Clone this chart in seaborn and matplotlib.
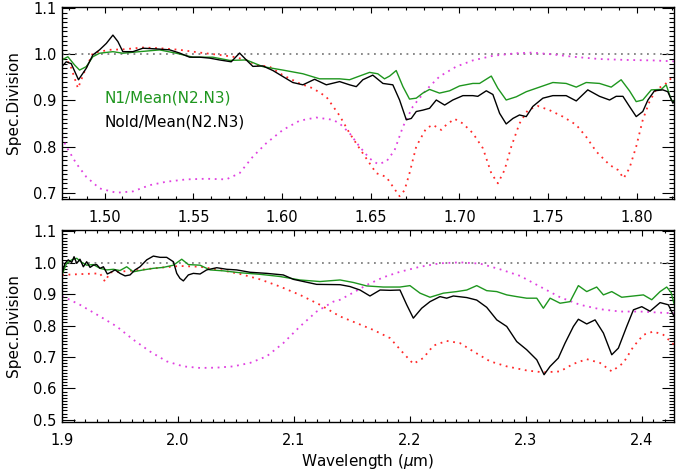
import numpy as np
import pandas as pd
import seaborn as sns
import matplotlib.pyplot as plt
from matplotlib.ticker import MultipleLocator, FormatStrFormatter

sns.set_theme(style="ticks")
plt.rcParams['font.family'] = ['DejaVu Sans']

# --- H band (top panel) ---
h_black_wl = [1.476, 1.4784, 1.4812, 1.4853, 1.4897, 1.4934, 1.4972, 1.501, 1.5047, 1.5075,
              1.5103, 1.516, 1.5216, 1.5291, 1.5366, 1.5423, 1.5479, 1.5536, 1.5592, 1.5648,
              1.5714, 1.5761, 1.5799, 1.5836, 1.5892, 1.5949, 1.6005, 1.6061, 1.6118, 1.6184,
              1.625, 1.6325, 1.6381, 1.6419, 1.6456, 1.6512, 1.6569, 1.6625, 1.6663, 1.6701,
              1.6729, 1.6757, 1.6794, 1.6832, 1.687, 1.6917, 1.6963, 1.702, 1.7076, 1.7104,
              1.7152, 1.7189, 1.7227, 1.7264, 1.7302, 1.7339, 1.7377, 1.7414, 1.7471, 1.7527,
              1.7602, 1.7659, 1.7724, 1.779, 1.7847, 1.7884, 1.7922, 1.7959, 1.7997, 1.8034,
              1.8063, 1.81, 1.8147, 1.8175, 1.8204, 1.8215]
h_black = [0.974, 0.984, 0.980, 0.945, 0.970, 0.999, 1.010, 1.024, 1.042, 1.028,
           1.006, 1.006, 1.0135, 1.012, 1.010, 1.003, 0.994, 0.994, 0.992, 0.988,
           0.984, 1.003, 0.988, 0.974, 0.975, 0.965, 0.952, 0.939, 0.934, 0.946,
           0.934, 0.941, 0.934, 0.930, 0.945, 0.955, 0.937, 0.934, 0.901, 0.858,
           0.861, 0.876, 0.879, 0.883, 0.901, 0.890, 0.901, 0.9105, 0.9105, 0.909,
           0.921, 0.913, 0.872, 0.849, 0.861, 0.8685, 0.865, 0.887, 0.905, 0.9105,
           0.9105, 0.899, 0.923, 0.909, 0.901, 0.909, 0.909, 0.887, 0.865, 0.876,
           0.901, 0.921, 0.923, 0.919, 0.894, 0.900]

h_green_wl = [1.476, 1.4793, 1.4831, 1.4859, 1.4897, 1.4934, 1.4972, 1.5047, 1.5103, 1.5197,
              1.531, 1.5404, 1.5498, 1.561, 1.5705, 1.5799, 1.5892, 1.6005, 1.6118, 1.6212,
              1.6325, 1.6381, 1.6437, 1.6494, 1.654, 1.6578, 1.6607, 1.6644, 1.6682, 1.6719,
              1.6757, 1.6794, 1.6832, 1.6888, 1.6945, 1.7001, 1.7076, 1.7114, 1.718, 1.7217,
              1.7264, 1.7321, 1.7377, 1.7452, 1.7527, 1.7602, 1.7659, 1.7715, 1.779, 1.7856,
              1.7912, 1.7959, 1.7997, 1.8034, 1.8082, 1.8138, 1.8166, 1.8195, 1.821]
h_green = [0.988, 0.995, 0.977, 0.966, 0.9735, 0.995, 1.0026, 1.006, 1.0026, 1.006,
           1.0098, 1.0026, 0.994, 0.994, 0.987, 0.988, 0.9735, 0.966, 0.958, 0.947,
           0.947, 0.945, 0.953, 0.961, 0.958, 0.947, 0.953, 0.965, 0.930, 0.903,
           0.905, 0.916, 0.924, 0.916, 0.921, 0.9315, 0.937, 0.937, 0.953, 0.9265,
           0.901, 0.908, 0.919, 0.929, 0.939, 0.937, 0.929, 0.939, 0.937, 0.929,
           0.945, 0.921, 0.8975, 0.901, 0.923, 0.924, 0.934, 0.901, 0.8975]

h_red_wl = [1.476, 1.4803, 1.485, 1.4887, 1.4934, 1.4972, 1.5028, 1.5103, 1.5216, 1.531,
            1.5423, 1.5536, 1.5648, 1.5723, 1.5799, 1.5855, 1.593, 1.6005, 1.6099, 1.6174,
            1.625, 1.6325, 1.6381, 1.6437, 1.6494, 1.6532, 1.6588, 1.6625, 1.6663, 1.6691,
            1.6719, 1.6757, 1.6813, 1.6851, 1.6898, 1.6926, 1.6973, 1.702, 1.7076, 1.7133,
            1.718, 1.7217, 1.7255, 1.7293, 1.7339, 1.7386, 1.7442, 1.7508, 1.7583, 1.7659,
            1.7715, 1.7772, 1.7847, 1.7894, 1.7926, 1.7959, 1.7997, 1.8034, 1.8072, 1.811,
            1.8157, 1.8204]
h_red = [0.992, 0.981, 0.9265, 0.963, 1.003, 1.006, 1.010, 1.011, 1.015, 1.0135,
         1.010, 1.004, 0.999, 0.995, 0.988, 0.977, 0.9735, 0.955, 0.937, 0.9265,
         0.908, 0.867, 0.829, 0.796, 0.7635, 0.742, 0.734, 0.713, 0.692, 0.705,
         0.742, 0.800, 0.8395, 0.847, 0.836, 0.847, 0.860, 0.850, 0.829, 0.796,
         0.742, 0.720, 0.749, 0.800, 0.850, 0.879, 0.888, 0.879, 0.865, 0.847,
         0.821, 0.789, 0.760, 0.749, 0.731, 0.753, 0.800, 0.858, 0.8975, 0.924,
         0.934, 0.952]

h_mag_wl = [1.476, 1.4784, 1.484, 1.4897, 1.4972, 1.5066, 1.516, 1.5254, 1.5348, 1.5461,
            1.5573, 1.5686, 1.5761, 1.5836, 1.5911, 1.6005, 1.6099, 1.6193, 1.6287, 1.6325,
            1.6381, 1.6437, 1.6494, 1.654, 1.6588, 1.6635, 1.6682, 1.6738, 1.6813, 1.6888,
            1.6982, 1.7076, 1.7189, 1.7321, 1.7414, 1.7527, 1.764, 1.779, 1.794, 1.8091,
            1.821]
h_mag = [0.821, 0.800, 0.7635, 0.734, 0.709, 0.6996, 0.7025, 0.716, 0.7235, 0.7286,
         0.730, 0.7286, 0.742, 0.778, 0.807, 0.836, 0.856, 0.863, 0.858, 0.850,
         0.829, 0.800, 0.774, 0.762, 0.767, 0.792, 0.843, 0.887, 0.923, 0.952,
         0.9735, 0.987, 0.997, 1.0026, 1.004, 1.000, 0.995, 0.990, 0.988, 0.987,
         0.985]

# --- K band (bottom panel) ---
k_black_wl = [1.9, 1.9026, 1.9054, 1.9084, 1.9104, 1.9127, 1.9155, 1.9184, 1.9213, 1.9242,
              1.927, 1.9299, 1.9328, 1.9357, 1.9391, 1.9429, 1.9458, 1.95, 1.9544, 1.9587,
              1.963, 1.9673, 1.9731, 1.9788, 1.9846, 1.9903, 1.9961, 1.999, 2.0018, 2.0047,
              2.009, 2.0133, 2.0191, 2.0248, 2.0335, 2.0421, 2.0507, 2.0622, 2.0766, 2.0909,
              2.0996, 2.1197, 2.1399, 2.1485, 2.1571, 2.1657, 2.1744, 2.183, 2.1916, 2.1974,
              2.2031, 2.2103, 2.2175, 2.2261, 2.2319, 2.2376, 2.2492, 2.2578, 2.2664, 2.2751,
              2.2837, 2.2923, 2.3009, 2.3096, 2.3159, 2.3211, 2.3282, 2.334, 2.3412, 2.3455,
              2.3527, 2.3599, 2.3671, 2.3743, 2.38, 2.3872, 2.393, 2.4002, 2.4073, 2.416,
              2.4231, 2.428]
k_black = [0.966, 0.998, 1.009, 1.001, 1.019, 0.998, 1.011, 0.987, 1.003, 0.985,
           0.992, 0.994, 0.982, 0.987, 0.964, 0.971, 0.977, 0.966, 0.958, 0.961,
           0.977, 0.987, 1.009, 1.021, 1.017, 1.017, 1.003, 0.966, 0.950, 0.942,
           0.961, 0.966, 0.964, 0.977, 0.984, 0.979, 0.977, 0.9695, 0.966, 0.961,
           0.947, 0.931, 0.930, 0.924, 0.913, 0.894, 0.913, 0.912, 0.913, 0.866,
           0.8235, 0.855, 0.876, 0.892, 0.887, 0.894, 0.889, 0.881, 0.858, 0.818,
           0.797, 0.749, 0.723, 0.691, 0.6435, 0.670, 0.6965, 0.744, 0.797, 0.820,
           0.805, 0.818, 0.776, 0.707, 0.728, 0.797, 0.850, 0.860, 0.8455, 0.873,
           0.866, 0.829]

k_green_wl = [1.9, 1.904, 1.9084, 1.9127, 1.917, 1.9213, 1.927, 1.9328, 1.9386, 1.9443,
              1.95, 1.9558, 1.9615, 1.9701, 1.9788, 1.9874, 1.9961, 2.0033, 2.009, 2.0191,
              2.0277, 2.0392, 2.0536, 2.0708, 2.0881, 2.1053, 2.1226, 2.1399, 2.1514, 2.1629,
              2.1772, 2.1916, 2.2002, 2.2089, 2.2175, 2.229, 2.2405, 2.2492, 2.2578, 2.2664,
              2.2751, 2.2837, 2.2923, 2.3009, 2.3096, 2.3153, 2.3211, 2.3297, 2.3383, 2.3455,
              2.3527, 2.3613, 2.3671, 2.3743, 2.3829, 2.393, 2.4016, 2.4088, 2.416, 2.4217,
              2.4255, 2.428]
k_green = [0.961, 0.998, 1.009, 1.014, 1.001, 0.992, 0.994, 0.982, 0.977, 0.979,
           0.975, 0.987, 0.971, 0.977, 0.982, 0.985, 0.992, 1.011, 0.994, 0.992,
           0.977, 0.974, 0.968, 0.963, 0.956, 0.945, 0.940, 0.945, 0.937, 0.926,
           0.9225, 0.9225, 0.927, 0.903, 0.890, 0.903, 0.908, 0.913, 0.927, 0.911,
           0.908, 0.8975, 0.892, 0.887, 0.887, 0.855, 0.887, 0.871, 0.876, 0.927,
           0.908, 0.9225, 0.8975, 0.908, 0.890, 0.894, 0.8975, 0.882, 0.908, 0.9225,
           0.905, 0.870]

k_red_wl = [1.9, 1.9184, 1.9328, 1.9371, 1.9415, 1.9615, 1.9846, 2.0018, 2.0191, 2.0363,
            2.0536, 2.0708, 2.0881, 2.1053, 2.1226, 2.1399, 2.1543, 2.1686, 2.183, 2.1945,
            2.2031, 2.2117, 2.2204, 2.2319, 2.2434, 2.2549, 2.2693, 2.2837, 2.3009, 2.3153,
            2.3297, 2.3412, 2.3527, 2.3642, 2.3743, 2.3843, 2.393, 2.4016, 2.4102, 2.4188,
            2.428]
k_red = [0.961, 0.964, 0.966, 0.940, 0.969, 0.975, 0.984, 0.9895, 0.987, 0.977,
         0.964, 0.947, 0.924, 0.8975, 0.866, 0.829, 0.8075, 0.786, 0.760, 0.712,
         0.678, 0.6965, 0.736, 0.751, 0.744, 0.7175, 0.686, 0.670, 0.657, 0.651,
         0.654, 0.678, 0.693, 0.681, 0.654, 0.681, 0.733, 0.7705, 0.781, 0.7705,
         0.739]

k_mag_wl = [1.9, 1.9155, 1.9328, 1.9472, 1.9615, 1.9759, 1.9903, 2.0047, 2.0191, 2.0335,
            2.0478, 2.0622, 2.0766, 2.0909, 2.1053, 2.1197, 2.1341, 2.1399, 2.1514, 2.1629,
            2.1772, 2.1916, 2.2089, 2.2261, 2.2434, 2.2607, 2.2779, 2.2952, 2.3124, 2.3297,
            2.3469, 2.3642, 2.3815, 2.3987, 2.416, 2.428]
k_mag = [0.894, 0.866, 0.829, 0.797, 0.755, 0.7175, 0.686, 0.670, 0.665, 0.666,
         0.670, 0.681, 0.702, 0.744, 0.797, 0.8445, 0.876, 0.882, 0.905, 0.929,
         0.9535, 0.971, 0.987, 0.998, 1.001, 0.997, 0.979, 0.958, 0.924, 0.890,
         0.866, 0.852, 0.8445, 0.8445, 0.841, 0.839]

GREEN = '#1e961e'
RED = '#ff2a2a'
MAG = '#e040e0'
DOT = (0, (1, 2.6))

fig = plt.figure(figsize=(6.78, 4.72), dpi=100)
ax1 = fig.add_axes([62/678, 1-199/472, 612/678, 192/472])
ax2 = fig.add_axes([62/678, 1-422/472, 612/678, 192/472])


def draw(ax, kw, k, gw, g, rw, r, mw, m):
    ax.axhline(1.0, color='#808080', lw=1.3, linestyle=DOT, zorder=1)
    sns.lineplot(x=mw, y=m, ax=ax, color=MAG, lw=1.3, linestyle=DOT,
                 sort=False, estimator=None)
    sns.lineplot(x=rw, y=r, ax=ax, color=RED, lw=1.3, linestyle=DOT,
                 sort=False, estimator=None)
    sns.lineplot(x=gw, y=g, ax=ax, color=GREEN, lw=1.0,
                 sort=False, estimator=None)
    sns.lineplot(x=kw, y=k, ax=ax, color='black', lw=1.0,
                 sort=False, estimator=None)
    for s in ax.spines.values():
        s.set_color('black')
        s.set_linewidth(1.0)
    ax.tick_params(axis='both', which='both', direction='in', colors='black',
                   top=True, right=True, labelsize=10.5)
    ax.tick_params(axis='x', which='major', length=4, width=0.8, pad=8)
    ax.tick_params(axis='x', which='minor', length=2, width=0.8)
    ax.tick_params(axis='y', which='major', length=9, width=0.8, pad=4)
    ax.tick_params(axis='y', which='minor', length=3.6, width=0.8)
    ax.yaxis.set_major_locator(MultipleLocator(0.1))
    ax.yaxis.set_minor_locator(MultipleLocator(0.01))
    ax.yaxis.set_major_formatter(FormatStrFormatter('%.1f'))
    ax.set_ylabel('Spec.Division', fontsize=11, color='black')
    ax.yaxis.set_label_coords(-0.067, 0.5)
    ax.grid(False)


draw(ax1, h_black_wl, h_black, h_green_wl, h_green, h_red_wl, h_red, h_mag_wl, h_mag)
ax1.set_xlim(1.476, 1.821)
ax1.set_ylim(0.686, 1.103)
ax1.xaxis.set_major_locator(MultipleLocator(0.05))
ax1.xaxis.set_minor_locator(MultipleLocator(0.01))
ax1.xaxis.set_major_formatter(FormatStrFormatter('%.2f'))
ax1.set_xlabel('')
ax1.text(0.07, 0.526, 'N1/Mean(N2.N3)', transform=ax1.transAxes, color=GREEN,
         fontsize=11, va='center', ha='left')
ax1.text(0.07, 0.401, 'Nold/Mean(N2.N3)', transform=ax1.transAxes, color='black',
         fontsize=11, va='center', ha='left')

draw(ax2, k_black_wl, k_black, k_green_wl, k_green, k_red_wl, k_red, k_mag_wl, k_mag)
ax2.set_xlim(1.9, 2.428)
ax2.set_ylim(0.493, 1.104)
ax2.xaxis.set_major_locator(MultipleLocator(0.1))
ax2.xaxis.set_minor_locator(MultipleLocator(0.01))
ax2.xaxis.set_major_formatter(FormatStrFormatter('%.1f'))
ax2.set_xlabel(r'Wavelength ($\mu$m)', fontsize=11, color='black')
ax2.xaxis.set_label_coords(0.5, -0.156)

fig.savefig('out.png', dpi=100, facecolor='white')
